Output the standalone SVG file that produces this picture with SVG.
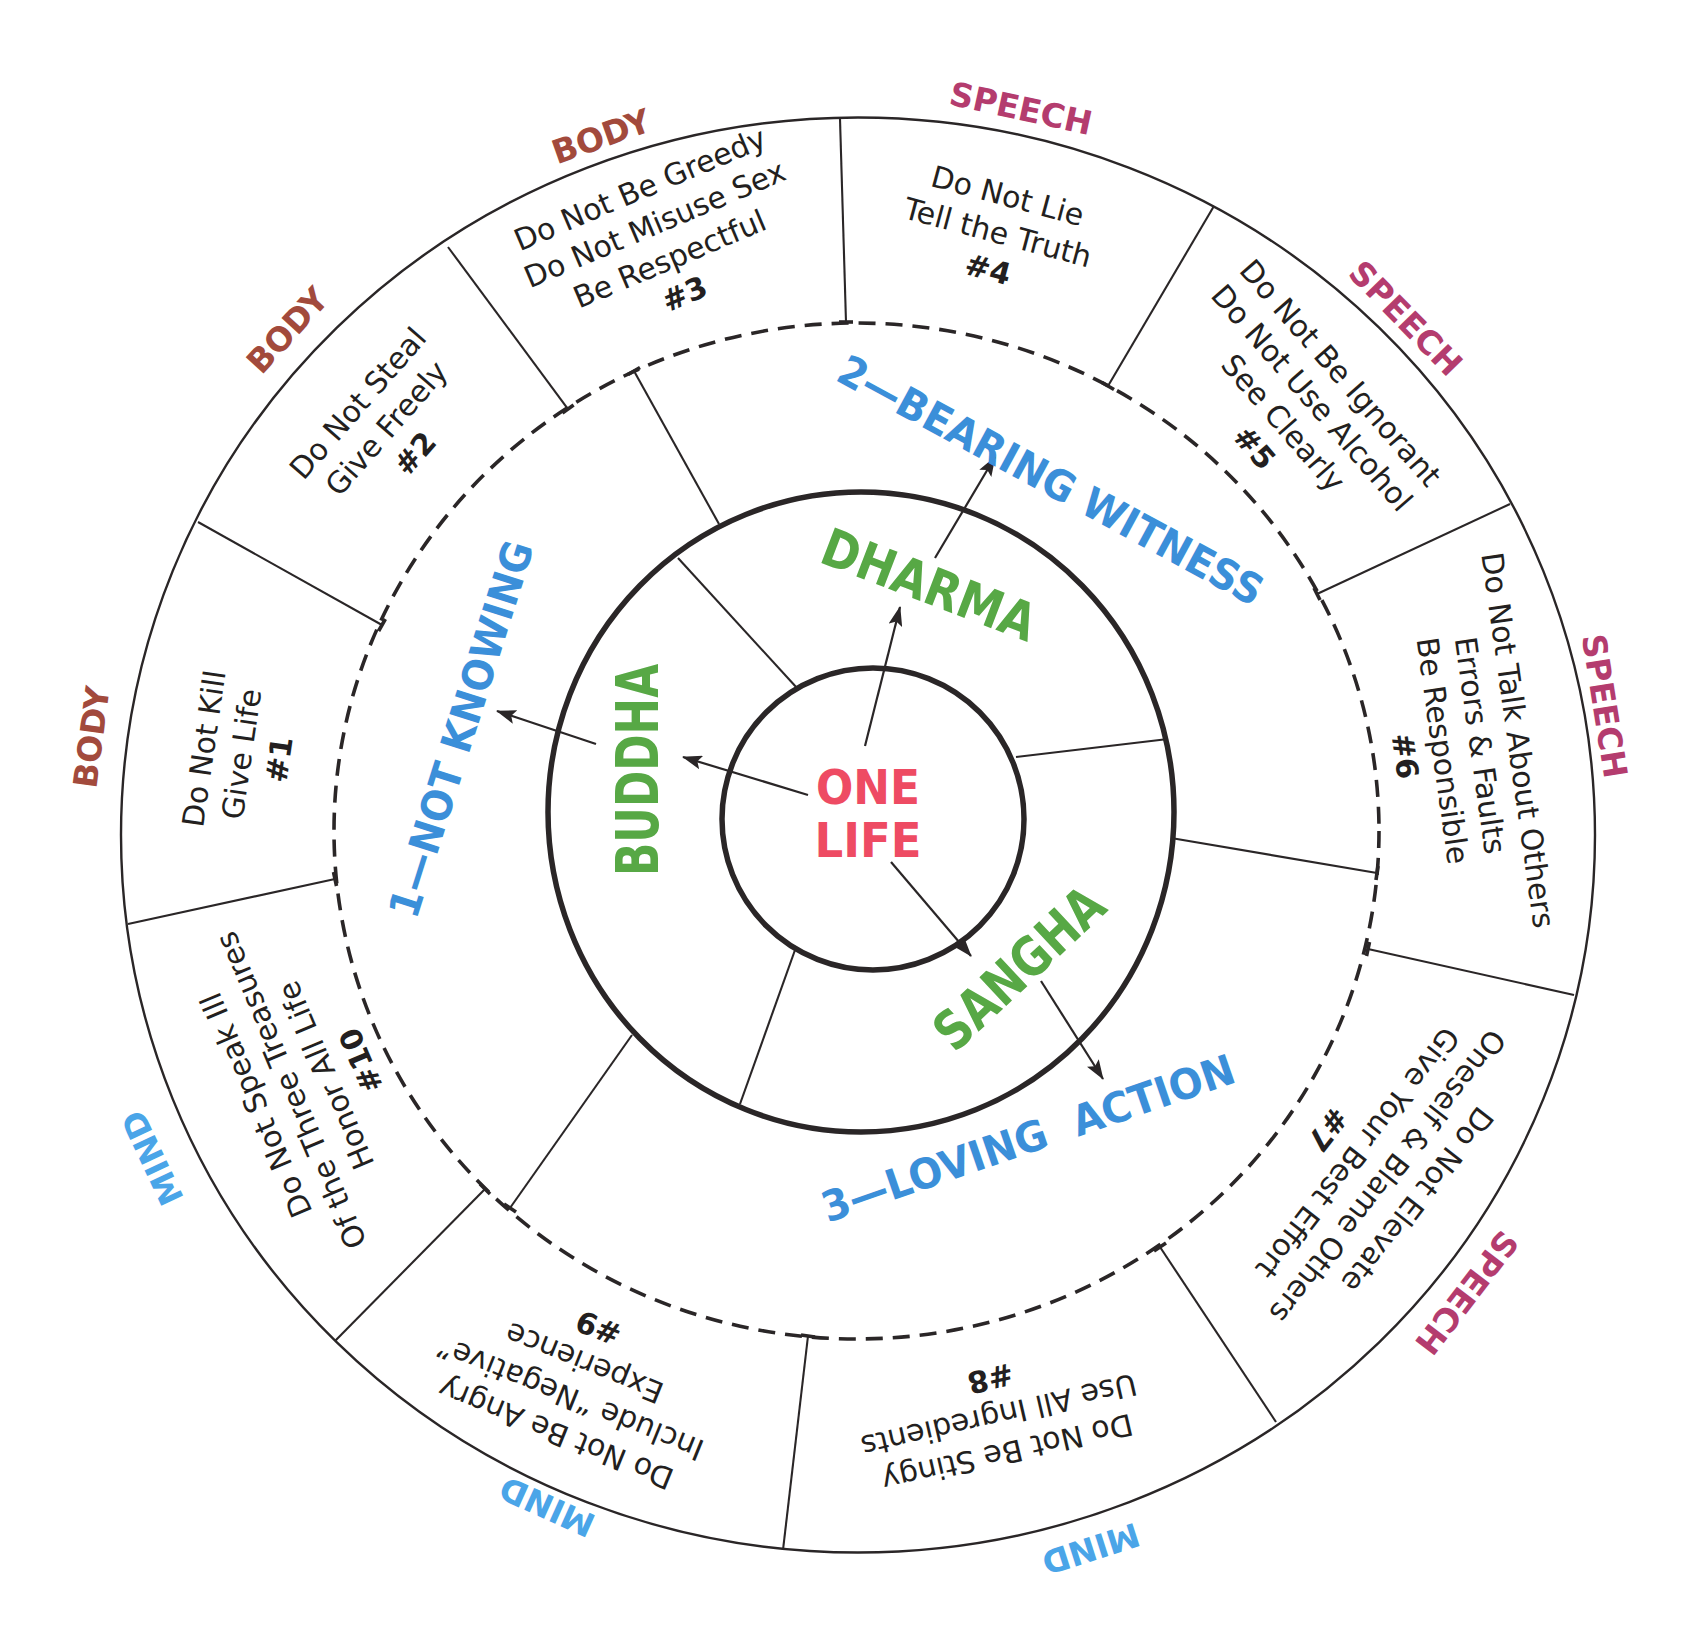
<svg xmlns="http://www.w3.org/2000/svg" width="1700" height="1638" viewBox="0 0 1700 1638">
<defs>
<marker id="ah" markerUnits="userSpaceOnUse" markerWidth="20" markerHeight="14" viewBox="0 0 20 14" refX="19" refY="7" orient="auto">
<path d="M0,0 L20,7 L0,14 L4,7 z" fill="#2a2627"/>
</marker>
</defs>
<style>
.ring{fill:none;stroke:#2a2627}
.thin{stroke-width:2.4}
.thick{stroke-width:5.5}
.dash{stroke-width:3.6;stroke-dasharray:17 10}
.div{stroke:#2a2627;stroke-width:2.1;fill:none}
.tick{stroke:#2a2627;stroke-width:3.6;fill:none}
.arr{stroke:#2a2627;stroke-width:2.2;fill:none;marker-end:url(#ah)}
.p{font-family:"DejaVu Sans",Verdana,sans-serif;font-size:30px;fill:#231f20;text-anchor:middle}
.n{font-weight:bold}
.lb{font-family:"DejaVu Sans",Verdana,sans-serif;font-weight:bold;font-size:33px;text-anchor:middle}
.body{fill:#a24a3c}
.speech{fill:#b43c6e}
.mind{fill:#4aa5e8}
.blue{font-family:"DejaVu Sans",Verdana,sans-serif;font-weight:bold;font-size:42px;fill:#3b8fd9;text-anchor:middle}
.green{font-family:"DejaVu Sans",Verdana,sans-serif;font-weight:bold;fill:#57a845;text-anchor:middle}
.red{font-family:"DejaVu Sans",Verdana,sans-serif;font-weight:bold;font-size:48px;fill:#ee4b63;text-anchor:middle}
</style>
<rect width="1700" height="1638" fill="#ffffff"/>

<g id="rings">
<ellipse class="ring thin" cx="858" cy="835" rx="737" ry="717.5"/>
<ellipse class="ring dash" cx="856.5" cy="831" rx="522.5" ry="508"/>
<ellipse class="ring thick" cx="861" cy="812" rx="313" ry="320"/>
<circle class="ring thick" cx="873" cy="819" r="151"/>
</g>

<g id="connectors">
<line class="div" x1="128" y1="924" x2="335" y2="879"/>
<line class="div" x1="198" y1="522" x2="382" y2="625"/>
<line class="div" x1="448" y1="247" x2="568" y2="409"/>
<line class="div" x1="840" y1="119" x2="846" y2="322"/>
<line class="div" x1="1214" y1="206" x2="1108" y2="386"/>
<line class="div" x1="1510" y1="504" x2="1317" y2="594"/>
<line class="div" x1="1574" y1="995" x2="1368" y2="949"/>
<line class="div" x1="1276" y1="1422" x2="1160" y2="1247"/>
<line class="div" x1="783" y1="1550" x2="808" y2="1336"/>
<line class="div" x1="335" y1="1341" x2="485" y2="1189"/>
<line class="tick" x1="333.5" y1="872" x2="336.5" y2="886"/>
<line class="tick" x1="385.4" y1="619" x2="378.6" y2="631"/>
<line class="tick" x1="573.6" y1="405" x2="562.4" y2="413"/>
<line class="tick" x1="853" y1="322" x2="839" y2="322"/>
<line class="tick" x1="1114" y1="389.5" x2="1102" y2="382.5"/>
<line class="tick" x1="1320" y1="600" x2="1314" y2="588"/>
<line class="tick" x1="1366.5" y1="956" x2="1369.5" y2="942"/>
<line class="tick" x1="1154" y1="1251" x2="1166" y2="1243"/>
<line class="tick" x1="801" y1="1335" x2="815" y2="1337"/>
<line class="tick" x1="480" y1="1184" x2="490" y2="1194"/>

<line class="div" x1="634" y1="371" x2="719" y2="524"/>
<line class="div" x1="1377" y1="873" x2="1171" y2="838"/>
<line class="div" x1="510" y1="1208" x2="632" y2="1035"/>
<line class="tick" x1="640" y1="367.5" x2="628" y2="374.5"/>
<line class="tick" x1="1376" y1="880" x2="1378" y2="866"/>
<line class="tick" x1="504" y1="1204" x2="516" y2="1212"/>

<line class="div" x1="678" y1="558" x2="797" y2="688"/>
<line class="div" x1="1168" y1="739" x2="1016" y2="757"/>
<line class="div" x1="740" y1="1104" x2="795" y2="950"/>

<line class="arr" x1="808" y1="795" x2="683" y2="757"/>
<line class="arr" x1="865" y1="746" x2="900" y2="607"/>
<line class="arr" x1="891" y1="862" x2="971" y2="956"/>
<line class="arr" x1="596" y1="744" x2="497" y2="711"/>
<line class="arr" x1="935" y1="558" x2="995" y2="457"/>
<line class="arr" x1="1041" y1="981" x2="1103" y2="1079"/>
</g>

<g id="one-life">
<text class="red" x="868" y="804" textLength="104" lengthAdjust="spacingAndGlyphs">ONE</text>
<text class="red" x="868" y="857" textLength="107" lengthAdjust="spacingAndGlyphs">LIFE</text>
</g>

<g id="buddha" transform="translate(638,770) rotate(-90)">
<text class="green" x="0" y="20" font-size="58" textLength="212" lengthAdjust="spacingAndGlyphs">BUDDHA</text>
</g>
<g id="dharma" transform="translate(929,585) rotate(21)">
<text class="green" x="0" y="18" font-size="52" textLength="225" lengthAdjust="spacingAndGlyphs">DHARMA</text>
</g>
<g id="sangha" transform="translate(1019,968) rotate(-43)">
<text class="green" x="0" y="19" font-size="54" textLength="211" lengthAdjust="spacingAndGlyphs">SANGHA</text>
</g>

<g id="not-knowing" transform="translate(461,729) rotate(-72.5)">
<text class="blue" x="0" y="15" textLength="392" lengthAdjust="spacingAndGlyphs">1—NOT KNOWING</text>
</g>
<g id="bearing-witness" transform="translate(1051,480) rotate(28.5)">
<text class="blue" x="0" y="15" textLength="477" lengthAdjust="spacingAndGlyphs">2—BEARING WITNESS</text>
</g>
<g id="loving-action" transform="translate(1028,1138) rotate(-19)">
<text class="blue" x="0" y="15" textLength="434" lengthAdjust="spacingAndGlyphs">3—LOVING<tspan dx="30">ACTION</tspan></text>
</g>

<g id="precept-1" transform="translate(241,754) rotate(-81.7)">
<text class="p"><tspan x="0" y="-27">Do Not Kill</tspan><tspan x="0" y="11">Give Life</tspan><tspan class="n" x="0" y="49">#1</tspan></text>
</g>
<g id="precept-2" transform="translate(386,428) rotate(-48.8)">
<text class="p"><tspan x="0" y="-27">Do Not Steal</tspan><tspan x="0" y="11">Give Freely</tspan><tspan class="n" x="0" y="49">#2</tspan></text>
</g>
<g id="precept-3" transform="translate(662,241) rotate(-23)">
<text class="p"><tspan x="0" y="-46">Do Not Be Greedy</tspan><tspan x="0" y="-8">Do Not Misuse Sex</tspan><tspan x="0" y="30">Be Respectful</tspan><tspan class="n" x="0" y="68">#3</tspan></text>
</g>
<g id="precept-4" transform="translate(998,232) rotate(15)">
<text class="p"><tspan x="0" y="-27">Do Not Lie</tspan><tspan x="0" y="11">Tell the Truth</tspan><tspan class="n" x="0" y="49">#4</tspan></text>
</g>
<g id="precept-5" transform="translate(1298,410) rotate(49)">
<text class="p"><tspan x="0" y="-46">Do Not Be Ignorant</tspan><tspan x="0" y="-8">Do Not Use Alcohol</tspan><tspan x="0" y="30">See Clearly</tspan><tspan class="n" x="0" y="68">#5</tspan></text>
</g>
<g id="precept-6" transform="translate(1462,748) rotate(82)">
<text class="p"><tspan x="0" y="-46">Do Not Talk About Others</tspan><tspan x="0" y="-8">Errors &amp; Faults</tspan><tspan x="0" y="30">Be Responsible</tspan><tspan class="n" x="0" y="68">#6</tspan></text>
</g>
<g id="precept-7" transform="translate(1373,1165) rotate(128)">
<text class="p"><tspan x="0" y="-46">Do Not Elevate</tspan><tspan x="0" y="-8">Oneself &amp; Blame Others</tspan><tspan x="0" y="30">Give Your Best Effort</tspan><tspan class="n" x="0" y="68">#7</tspan></text>
</g>
<g id="precept-8" transform="translate(999,1416) rotate(167)">
<text class="p"><tspan x="0" y="-27">Do Not Be Stingy</tspan><tspan x="0" y="11">Use All Ingredients</tspan><tspan class="n" x="0" y="49">#8</tspan></text>
</g>
<g id="precept-9" transform="translate(577,1381) rotate(202)">
<text class="p"><tspan x="0" y="-46">Do Not Be Angry</tspan><tspan x="0" y="-8">Include “Negative”</tspan><tspan x="0" y="30">Experience</tspan><tspan class="n" x="0" y="68">#9</tspan></text>
</g>
<g id="precept-10" transform="translate(308,1083) rotate(247)">
<text class="p"><tspan x="0" y="-46">Do Not Speak Ill</tspan><tspan x="0" y="-8">Of the Three Treasures</tspan><tspan x="0" y="30">Honor All Life</tspan><tspan class="n" x="0" y="68">#10</tspan></text>
</g>

<g id="labels">
<text class="lb body" transform="translate(601,136) rotate(-19.6)" y="12">BODY</text>
<text class="lb body" transform="translate(287,330) rotate(-47.6)" y="12">BODY</text>
<text class="lb body" transform="translate(91,737) rotate(-82.5)" y="12">BODY</text>
<text class="lb speech" transform="translate(1021,108) rotate(12.3)" y="12">SPEECH</text>
<text class="lb speech" transform="translate(1406,318) rotate(45.7)" y="12">SPEECH</text>
<text class="lb speech" transform="translate(1605,706) rotate(81)" y="12">SPEECH</text>
<text class="lb speech" transform="translate(1467,1293) rotate(127.5)" y="12">SPEECH</text>
<text class="lb mind" transform="translate(1091,1549) rotate(162.3)" y="12">MIND</text>
<text class="lb mind" transform="translate(547,1507) rotate(204.2)" y="12">MIND</text>
<text class="lb mind" transform="translate(152,1158) rotate(244.8)" y="12">MIND</text>
</g>
</svg>
